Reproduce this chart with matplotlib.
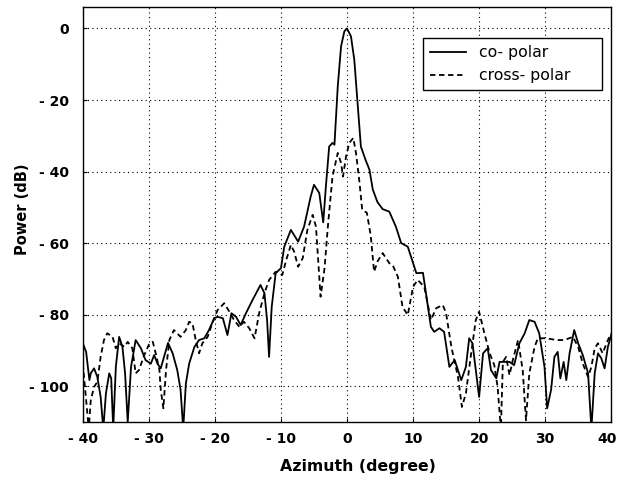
import matplotlib
matplotlib.use('Agg')
import matplotlib.pyplot as plt
from matplotlib.transforms import ScaledTranslation

# co-polar pattern
co_az = [-40, -39.5, -39, -38.8, -38.3, -37.8, -37.3, -36.9, -36.5, -36,
         -35.7, -35.4, -35, -34.5, -34, -33.6, -33.2, -32.7, -32, -31.2,
         -30.5, -29.7, -29.2, -28.7, -28.2, -27.7, -27.1, -26.4, -25.7, -25.2,
         -24.8, -24.4, -23.9, -23.1, -22.4, -21.6, -20.9, -20.1, -19.6, -18.8,
         -18.1, -17.5, -16.8, -16.1, -15.3, -14.3, -13.1, -12.5, -12.1, -11.8,
         -11.4, -10.8, -10, -9.5, -8.5, -7.4, -6.5, -5.5, -5, -4.2,
         -3.6, -3.2, -2.7, -2.2, -1.9, -1.4, -0.9, -0.4, 0, 0.6,
         1.1, 1.6, 2.1, 2.8, 3.4, 3.9, 4.6, 5.4, 6.4, 7.4,
         8.2, 9.2, 10.5, 11.5, 12.7, 13.2, 14, 14.7, 15.5, 16.3,
         17.3, 18, 18.5, 19, 19.5, 20, 20.6, 21.3, 21.8, 22.6,
         23.1, 23.8, 24.6, 25.3, 26.1, 26.9, 27.6, 28.4, 29.1, 29.9,
         30.3, 30.9, 31.4, 31.9, 32.3, 32.8, 33.2, 33.7, 34.4, 35,
         35.7, 36.5, 37, 37.5, 38, 38.5, 39, 39.5, 40]
co_db = [-88, -90.4, -98.3, -96.4, -95, -97.4, -103, -112, -102, -96.4,
         -97.8, -112, -94.6, -86.2, -89, -96.4, -110, -94.6, -87.1, -89.4,
         -92.7, -93.7, -91.3, -93.7, -95, -91.8, -87.9, -90.8, -95.5, -101,
         -112, -99.3, -93.7, -89, -87.1, -86.6, -84.3, -81, -80.6, -81,
         -85.7, -79.6, -80.6, -82.9, -79.6, -75.9, -71.7, -74, -81.5, -91.8,
         -77.8, -68.4, -67, -61, -56.3, -59.6, -55.4, -47, -43.7, -46,
         -54.2, -44.2, -33, -32, -32.5, -16.2, -5, -0.8, 0, -2.2,
         -8.7, -20.8, -33, -36.7, -39.5, -45, -48.5, -50.5, -51.2, -55.4,
         -60, -61, -68.4, -68.3, -83.4, -84.8, -83.8, -84.8, -94.6, -92.7,
         -98.3, -94.6, -86.6, -88, -95.5, -103, -90.8, -89.4, -95.5, -97.8,
         -93.2, -93.2, -93.2, -94.1, -88, -85.2, -81.5, -82, -85.2, -94.6,
         -106.2, -101, -91.8, -90.4, -97.8, -93.2, -98.3, -90.8, -84.3, -88,
         -91.3, -96.4, -112, -96.4, -90.8, -92.2, -95, -89, -85.7]

# cross-polar pattern
cx_az = [-40, -39.1, -38.8, -38.3, -37.8, -37.3, -36.8, -36.3, -35.5, -35,
         -34.5, -33.7, -33.2, -32.5, -32, -31.5, -30.7, -29.9, -29.4, -28.9,
         -28.4, -28.2, -27.8, -27.4, -26.9, -26.2, -25.2, -24.4, -23.9, -23.4,
         -22.9, -22.4, -21.9, -21.1, -20.4, -19.6, -19.3, -18.6, -17.8, -17.1,
         -16.3, -15.6, -14.8, -14, -13.3, -12.5, -11.8, -10.8, -9.8, -9.2,
         -8.5, -8, -7.4, -6.7, -6, -5.2, -4.7, -4.3, -4, -3.4,
         -2.9, -2.2, -1.4, -0.9, -0.6, -0.15, 0.35, 0.95, 1.36, 1.9,
         2.3, 3.0, 3.6, 4.1, 4.65, 5.4, 6.4, 6.9, 7.7, 8.4,
         9.2, 10, 10.7, 11.7, 12.7, 13.5, 14.5, 15, 15.8, 16.8,
         17.4, 18, 18.8, 19.5, 20, 20.8, 21.6, 22.3, 22.8, 23.3,
         23.6, 24.1, 24.6, 25.1, 25.9, 26.6, 27.1, 27.6, 28.4, 28.9,
         30.2, 31.7, 32.9, 34.2, 35, 35.7, 36.5, 37, 37.5, 38,
         38.7, 39.5, 40]
cx_db = [-93.6, -112, -104, -100.2, -98.8, -91.8, -87.1, -85.2, -86.2, -89.4,
         -88, -89, -87.6, -89.4, -96.4, -95.5, -91.3, -88, -87.6, -91.3,
         -95.5, -101, -106.2, -95.5, -87.1, -84.3, -86.2, -84.3, -82, -82.4,
         -87.1, -90.8, -88, -86.2, -82.4, -78.7, -78.2, -76.8, -79.2, -81.5,
         -83.4, -82, -83.8, -86.6, -79.6, -74, -70.3, -68, -68.9, -64.7,
         -60.5, -62.4, -66.6, -64.2, -56.3, -52.1, -55.4, -66.6, -75, -67,
         -55.4, -41.4, -34.8, -37.6, -41.4, -35.8, -32, -30.6, -34.8, -43.2,
         -50.7, -51.5, -58, -68, -65, -62.8, -65.6, -66.1, -69.4, -77.8,
         -80.1, -72.2, -70.3, -72.2, -81.5, -78.2, -77.3, -79.6, -89, -97.4,
         -105.8, -102, -90.8, -81.5, -79.2, -85.2, -90.8, -94.1, -100.2, -112,
         -93.2, -91.8, -96.9, -92.7, -87.1, -95.5, -109.5, -96.4, -89, -86.6,
         -86.6, -87.1, -87.1, -86.2, -89, -93.7, -97.4, -94.6, -89.4, -88,
         -90.8, -87.1, -85.2]

x_ticks = [-40, -30, -20, -10, 0, 10, 20, 30, 40]
y_ticks = [0, -20, -40, -60, -80, -100]

plt.rcParams['font.family'] = ['DejaVu Sans']

fig = plt.figure(figsize=(6.18, 4.82), dpi=100)
ax = fig.add_axes([0.134, 0.1245, 0.855, 0.861])

ax.plot(co_az, co_db, color='black', lw=1.3, label='co- polar')
ax.plot(cx_az, cx_db, color='black', lw=1.3, linestyle=(0, (3, 2)), label='cross- polar')

ax.set_xlim(-40, 40)
ax.set_ylim(-110, 6)

def lab(v):
    return '0' if v == 0 else ('- %d' % abs(v) if v < 0 else '%d' % v)

ax.set_xticks(x_ticks)
ax.set_xticklabels([lab(v) for v in x_ticks], fontsize=10, fontweight='bold')
ax.set_yticks(y_ticks)
ax.set_yticklabels([lab(v) for v in y_ticks], fontsize=10, fontweight='bold')
ax.tick_params(direction='in', length=3)
ax.tick_params(axis='x', pad=7)
ax.tick_params(axis='y', pad=10)

# last x label sits at the figure edge, nudge it in a little
last = ax.get_xticklabels()[-1]
last.set_transform(last.get_transform() + ScaledTranslation(-3 / 72, 0, fig.dpi_scale_trans))

ax.grid(True, color='black', linestyle=(0, (1, 3)), lw=0.8)
for s in ax.spines.values():
    s.set_linewidth(1.0)

ax.set_xlabel('Azimuth (degree)', fontsize=11.3, fontweight='bold')
ax.xaxis.set_label_coords(0.521, -0.089)
ax.set_ylabel('Power (dB)', fontsize=10.5, fontweight='bold')
ax.yaxis.set_label_coords(-0.100, 0.513)

leg = ax.legend(loc='upper left', bbox_to_anchor=(0.644, 0.8, 0.339, 0.125), mode='expand',
                borderaxespad=0, fontsize=11.3, handlelength=2.3, handletextpad=0.8,
                fancybox=False, framealpha=1, borderpad=0.45)
leg.get_frame().set_edgecolor('black')
leg.get_frame().set_linewidth(1.0)

fig.savefig('out.png', dpi=100)
